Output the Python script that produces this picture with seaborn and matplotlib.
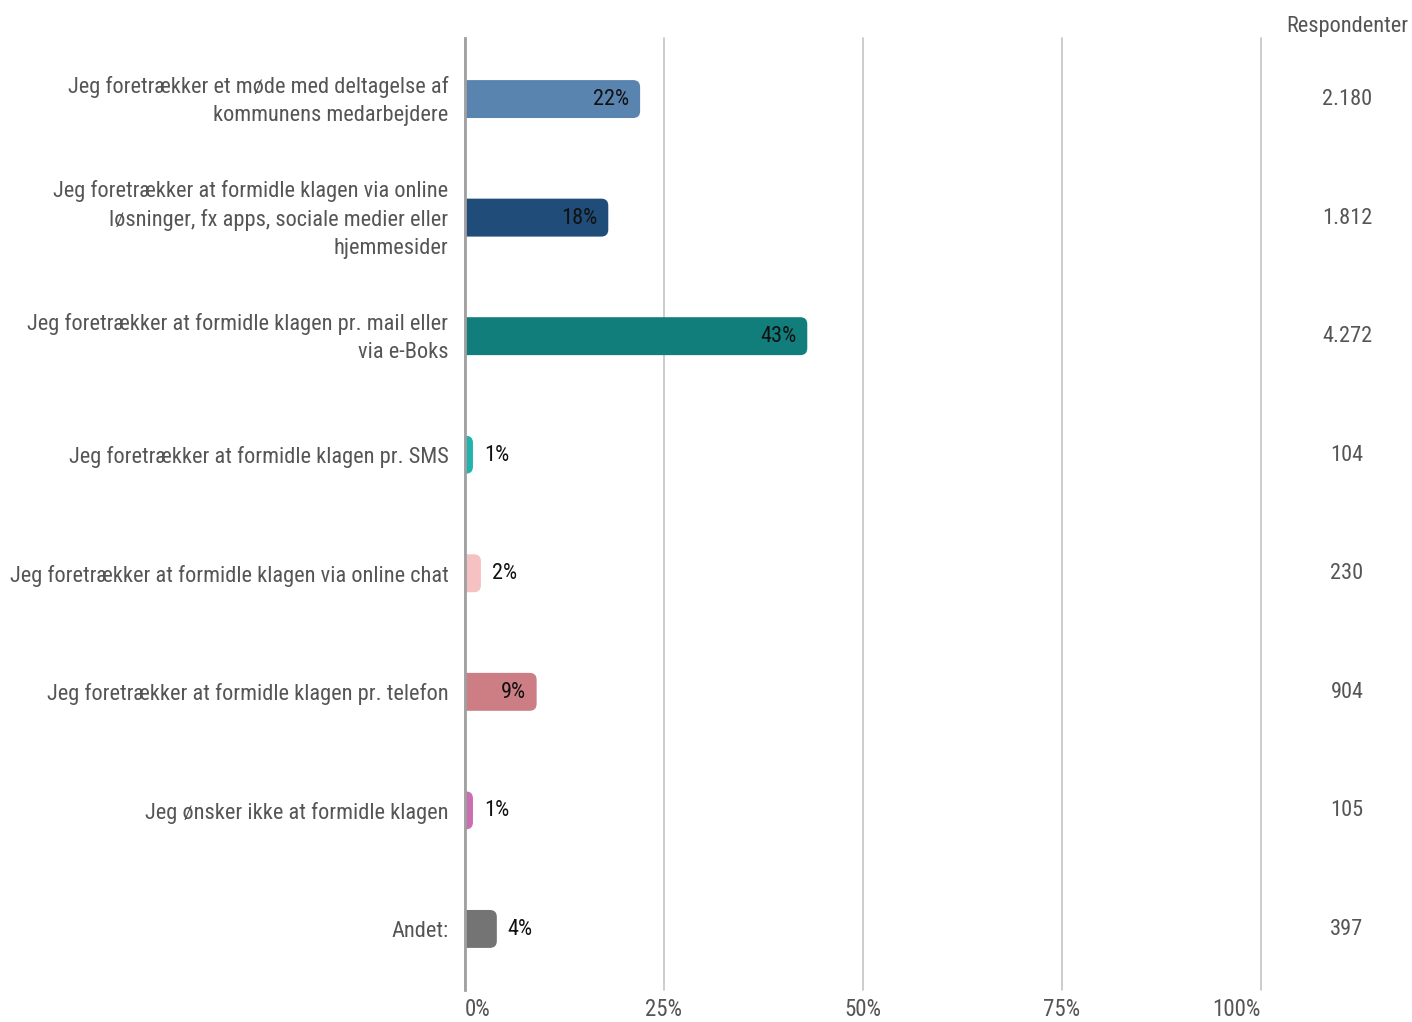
import seaborn as sns
import matplotlib.pyplot as plt
import matplotlib.transforms as mtransforms
import pandas as pd
from matplotlib import font_manager
from matplotlib.patches import FancyBboxPatch

sns.set_style("white")

# pick a narrow font if one is installed, else plain Roboto a bit smaller
available = {f.name for f in font_manager.fontManager.ttflist}
FONT = next((f for f in ["Roboto Condensed", "Liberation Sans Narrow"] if f in available), "Roboto")
SIZE = 16.1 if FONT != "Roboto" else 14
plt.rcParams['font.family'] = [FONT, 'DejaVu Sans']

CATEGORIES = [
    "Jeg foretrækker et møde med deltagelse af\nkommunens medarbejdere",
    "Jeg foretrækker at formidle klagen via online\nløsninger, fx apps, sociale medier eller\nhjemmesider",
    "Jeg foretrækker at formidle klagen pr. mail eller\nvia e-Boks",
    "Jeg foretrækker at formidle klagen pr. SMS",
    "Jeg foretrækker at formidle klagen via online chat",
    "Jeg foretrækker at formidle klagen pr. telefon",
    "Jeg ønsker ikke at formidle klagen",
    "Andet:",
]
PERCENT = [22, 18, 43, 1, 2, 9, 1, 4]
RESPONDENTS = ["2.180", "1.812", "4.272", "104", "230", "904", "105", "397"]
COLORS = ["#5a84b0", "#1f4c78", "#117e7c", "#22b3ad", "#f5c1c3",
          "#cc7e84", "#cc6eb2", "#747474"]
X_TICKS = [0, 25, 50, 75, 100]

df = pd.DataFrame({"category": CATEGORIES, "percent": PERCENT})

fig = plt.figure(figsize=(14.12, 10.22), dpi=100)
ax = fig.add_axes([465 / 1412, 1 - 990 / 1022, 796 / 1412, 952 / 1022])

sns.barplot(data=df, y="category", x="percent", hue="category", palette=COLORS,
            orient="h", width=0.32, legend=False, ax=ax, saturation=1)

ax.set_xlim(0, 100)
ax.set_ylim(len(CATEGORIES) - 0.485, -0.515)

# swap the square bars for ones with rounded ends
x_per_px = 100 / 796
y_per_px = (len(CATEGORIES) + 0.03) / 952
radius = 7 * x_per_px
for p in list(ax.patches):
    x0, y0, w, h = p.get_x(), p.get_y(), p.get_width(), p.get_height()
    rounded = FancyBboxPatch((x0 - 3, y0), w + 3, h,
                             boxstyle=f"round,pad=0,rounding_size={radius}",
                             mutation_aspect=y_per_px / x_per_px,
                             facecolor=p.get_facecolor(), edgecolor="none", zorder=2)
    p.remove()
    ax.add_patch(rounded)

# value labels: inside for the big bars, outside for the small ones
for i, v in enumerate(PERCENT):
    if v >= 8:
        ax.text(v - 11 * x_per_px, i + 0.005, f"{v}%", ha="right", va="center",
                fontsize=SIZE, color="#111111", zorder=3)
    else:
        ax.text(v + 11 * x_per_px, i + 0.005, f"{v}%", ha="left", va="center",
                fontsize=SIZE, color="#111111", zorder=3)

# respondent column on the right
col_x = (1347 - 465) * x_per_px
ax.text(col_x, -0.61, "Respondenter", ha="center", va="center",
        fontsize=SIZE, color="#555555", clip_on=False)
for i, n in enumerate(RESPONDENTS):
    ax.text(col_x, i + 0.005, n, ha="center", va="center", fontsize=SIZE,
            color="#555555", clip_on=False)

ax.set_xticks(X_TICKS)
ax.set_xticklabels([f"{t}%" for t in X_TICKS])
ax.xaxis.grid(True, color="#c4c4c4", linewidth=1.2)
for line in ax.get_xgridlines():
    line.set_clip_on(False)
ax.set_axisbelow(True)

for side in ["top", "right", "bottom"]:
    ax.spines[side].set_visible(False)
ax.spines["left"].set_color("#a0a0a0")
ax.spines["left"].set_linewidth(2)
ax.spines["left"].set_zorder(4)

ax.tick_params(axis="y", length=0, pad=12, labelsize=SIZE, labelcolor="#555555")
ax.tick_params(axis="x", length=0, pad=6, labelsize=SIZE + 0.4, labelcolor="#555555")
# multi-line labels sit a little high in the reference
lift = mtransforms.ScaledTranslation(0, 4 / 100, fig.dpi_scale_trans)
for label in ax.get_yticklabels():
    label.set_linespacing(1.43)
    if "\n" in label.get_text():
        label.set_transform(label.get_transform() + lift)
xt = ax.get_xticklabels()
xt[0].set_ha("left")
xt[-1].set_ha("right")

ax.set_xlabel("")
ax.set_ylabel("")

fig.savefig("out.png", dpi=100)
